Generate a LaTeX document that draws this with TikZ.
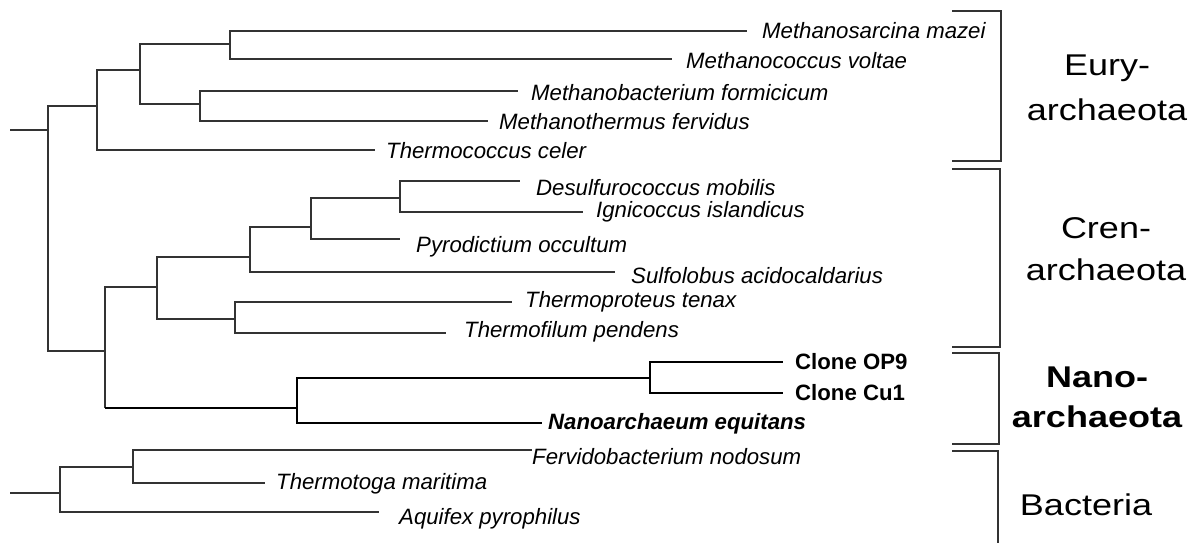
\documentclass[tikz,border=0pt]{standalone}
\usepackage{fontspec}
\setmainfont{Liberation Sans}
\newfontfamily\cladefont[FakeStretch=1.2]{Liberation Sans}
\usepackage{xcolor}
\usepackage{tikz}
\usetikzlibrary{positioning}
\definecolor{treeGrey}{HTML}{333333}

\begin{document}
\begin{tikzpicture}[
  x=1pt,y=-1pt,
  branch/.style={line width=1.2pt,color=treeGrey},
  nanobranch/.style={line width=2.4pt,color=black},
  taxon/.style={anchor=base west,inner sep=0pt,font=\fontsize{22.2}{26}\selectfont\itshape},
  clone/.style={anchor=base west,inner sep=0pt,font=\fontsize{22.2}{26}\selectfont\bfseries},
  clade/.style={anchor=base,inner sep=0pt,align=center,font=\cladefont\fontsize{30}{45}\selectfont},
  bracket/.style={line width=1.2pt,color=treeGrey}
]
\useasboundingbox (0,0) rectangle (1188,543);
% inner nodes of the tree
\coordinate (root0) at (10,130);
\coordinate (root) at (48,130);
\coordinate (eury) at (97,106);
\coordinate (e1) at (140,70);
\coordinate (e2) at (230,44);
\coordinate (e3) at (200,104);
\coordinate (arch) at (105,351);
\coordinate (cren) at (157,287);
\coordinate (c1) at (250,257);
\coordinate (c2) at (311,227);
\coordinate (c3) at (400,198);
\coordinate (c4) at (235,319);
\coordinate (nano) at (297,408);
\coordinate (n1) at (650,378);
\coordinate (bact0) at (10,493);
\coordinate (bact) at (60,493);
\coordinate (b1) at (133,467);
% branch tips
\coordinate (mazei-end) at (747,31);
\coordinate (voltae-end) at (672,59);
\coordinate (formic-end) at (518,91);
\coordinate (fervid-end) at (488,121);
\coordinate (celer-end) at (375,150);
\coordinate (mobilis-end) at (520,181);
\coordinate (island-end) at (583,212);
\coordinate (occult-end) at (400,239);
\coordinate (sulfo-end) at (615,272);
\coordinate (tenax-end) at (512,302);
\coordinate (pendens-end) at (446,333);
\coordinate (op9-end) at (783,362);
\coordinate (cu1-end) at (783,393);
\coordinate (equit-end) at (542,423);
\coordinate (nodosum-end) at (532,450);
\coordinate (marit-end) at (265,483);
\coordinate (aquifex-end) at (379,512);
% labels
\node[taxon] (mazei) at (762,39) {Methanosarcina mazei};
\node[taxon] (voltae) at (686,69) {Methanococcus voltae};
\node[taxon] (formic) at (531,100) {Methanobacterium formicicum};
\node[taxon] (fervid) at (499,129) {Methanothermus fervidus};
\node[taxon] (celer) at (386,158) {Thermococcus celer};
\node[taxon] (mobilis) at (536,195) {Desulfurococcus mobilis};
\node[taxon] (island) at (596,217) {Ignicoccus islandicus};
\node[taxon] (occult) at (416,252) {Pyrodictium occultum};
\node[taxon] (sulfo) at (631,283) {Sulfolobus acidocaldarius};
\node[taxon] (tenax) at (525,307) {Thermoproteus tenax};
\node[taxon] (pendens) at (464,337) {Thermofilum pendens};
\node[clone] (op9) at (795,369) {Clone OP9};
\node[clone] (cu1) at (795,400) {Clone Cu1};
\node[clone,font=\fontsize{22.2}{26}\selectfont\bfseries\itshape] (equit) at (548,429) {Nanoarchaeum equitans};
\node[taxon] (nodosum) at (532,464) {Fervidobacterium nodosum};
\node[taxon] (marit) at (276,489) {Thermotoga maritima};
\node[taxon] (aquifex) at (399,524) {Aquifex pyrophilus};
% clade names (anchored on the last line)
\node[clade] (euryname) at (1107,120) {Eury-\\archaeota};
\node[clade,font=\cladefont\fontsize{30}{42}\selectfont] (crenname) at (1106,280) {Cren-\\archaeota};
\node[clade,font=\cladefont\bfseries\fontsize{30}{40}\selectfont] (nanoname) at (1097,427) {Nano-\\archaeota};
\node[clade] (bactname) at (1086,515) {Bacteria};
% branches
\draw[branch] (root0) -- (root);
\draw[branch] (root) |- (eury);
\draw[branch] (root) |- (arch);
\draw[branch] (eury) |- (e1);
\draw[branch] (eury) |- (celer-end);
\draw[branch] (e1) |- (e2);
\draw[branch] (e1) |- (e3);
\draw[branch] (e2) |- (mazei-end);
\draw[branch] (e2) |- (voltae-end);
\draw[branch] (e3) |- (formic-end);
\draw[branch] (e3) |- (fervid-end);
\draw[branch] (arch) |- (cren);
\draw[branch] (arch) -- (arch |- nano);
\draw[nanobranch] (arch |- nano) -- (nano);
\draw[branch] (cren) |- (c1);
\draw[branch] (cren) |- (c4);
\draw[branch] (c1) |- (c2);
\draw[branch] (c1) |- (sulfo-end);
\draw[branch] (c2) |- (c3);
\draw[branch] (c2) |- (occult-end);
\draw[branch] (c3) |- (mobilis-end);
\draw[branch] (c3) |- (island-end);
\draw[branch] (c4) |- (tenax-end);
\draw[branch] (c4) |- (pendens-end);
\draw[nanobranch] (nano) |- (n1);
\draw[nanobranch] (nano) |- (equit-end);
\draw[nanobranch] (n1) |- (op9-end);
\draw[nanobranch] (n1) |- (cu1-end);
\draw[branch] (bact0) -- (bact);
\draw[branch] (bact) |- (b1);
\draw[branch] (bact) |- (aquifex-end);
\draw[branch] (b1) |- (nodosum-end);
\draw[branch] (b1) |- (marit-end);
% brackets
\draw[bracket] (952,11) -- (1001,11) -- (1001,161) -- (952,161);
\draw[bracket] (952,169) -- (1000,169) -- (1000,347) -- (952,347);
\draw[bracket] (952,353) -- (999,353) -- (999,444) -- (952,444);
\draw[bracket] (952,451) -- (998,451) -- (998,545);
\end{tikzpicture}
\end{document}
